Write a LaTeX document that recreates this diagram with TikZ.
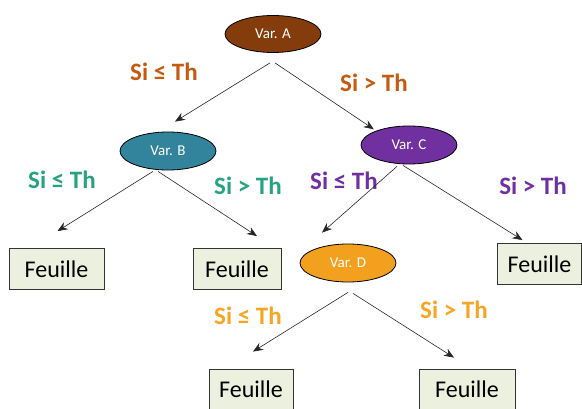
\documentclass[tikz,border=0pt]{standalone}
\usepackage{fontspec}
\setmainfont{Carlito}
\usepackage{tikz}
\usetikzlibrary{positioning,shapes.geometric,arrows.meta}

\definecolor{varAfill}{HTML}{843C0C}
\definecolor{varAtext}{HTML}{C55A11}
\definecolor{varBfill}{HTML}{31849B}
\definecolor{varBtext}{HTML}{27A383}
\definecolor{varCfill}{HTML}{7030A0}
\definecolor{varDfill}{HTML}{F2A01E}
\definecolor{varDtext}{HTML}{F6A623}
\definecolor{leaffill}{HTML}{EBF1DE}

\begin{document}
\begin{tikzpicture}[x=1pt, y=-1pt,
			varnode/.style={ellipse, draw=black, thick, minimum width=96pt, minimum height=38pt, text=white, font=\fontsize{15}{17}\selectfont},
			leafnode/.style={rectangle, draw=black!80, thick, fill=leaffill, minimum height=41pt, inner sep=4pt, font=\fontsize{24}{28}\selectfont},
			condlabel/.style={font=\bfseries\fontsize{25}{29}\selectfont},
			edge/.style={-{Stealth[length=10pt,width=8pt]}, draw=black!85, semithick},
		]
		
			\useasboundingbox (0,0) rectangle (582,409);
		
			%Nodes
			\node[varnode, fill=varAfill, minimum height=37pt]	(A)	at (273,34)		{Var. A};
			\node[varnode, fill=varBfill]	(B)	at (168,151)	{Var. B};
			\node[varnode, fill=varCfill]	(C)	at (409,145)	{Var. C};
			\node[varnode, fill=varDfill]	(D)	at (348,263)	{Var. D};
		
			\node[leafnode, minimum width=95pt]	(f1)	at (56.5,269)	{Feuille};
			\node[leafnode, minimum width=88pt]	(f2)	at (237,269)	{Feuille};
			\node[leafnode, minimum width=84pt]	(f3)	at (539.5,264)	{Feuille};
			\node[leafnode, minimum width=84pt]	(f4)	at (251,389.5)	{Feuille};
			\node[leafnode, minimum width=96pt]	(f5)	at (467,389.5)	{Feuille};
		
			%Labels
			\node[condlabel, text=varAtext]	(lA1)	at (164,72)		{Si ≤ Th};
			\node[condlabel, text=varAtext]	(lA2)	at (374,83)		{Si > Th};
			\node[condlabel, text=varBtext]	(lB1)	at (62,180)		{Si ≤ Th};
			\node[condlabel, text=varBtext]	(lB2)	at (248,186)	{Si > Th};
			\node[condlabel, text=varCfill]	(lC1)	at (344,181)	{Si ≤ Th};
			\node[condlabel, text=varCfill]	(lC2)	at (533,186)	{Si > Th};
			\node[condlabel, text=varDtext]	(lD1)	at (248,316)	{Si ≤ Th};
			\node[condlabel, text=varDtext]	(lD2)	at (454,310)	{Si > Th};
		
			%Lines
			\draw[edge]	([shift={(-3pt,-10pt)}]A.south) -- ([shift={(7pt,10pt)}]B.north);
			\draw[edge]	([shift={(2pt,-10pt)}]A.south) -- ([shift={(-1pt,2pt)}]C.north west);
			\draw[edge]	([shift={(-15pt,-1pt)}]B.south) -- ([shift={(1pt,17pt)}]f1.north);
			\draw[edge]	([shift={(-10pt,-1pt)}]B.south) -- ([shift={(20pt,12pt)}]f2.north);
			\draw[edge]	([shift={(-12pt,-2pt)}]C.south) -- ([shift={(-26pt,11pt)}]D.north);
			\draw[edge]	([shift={(-6pt,-1pt)}]C.south) -- ([shift={(-17pt,3pt)}]f3.north);
			\draw[edge]	([shift={(0pt,-10pt)}]D.south) -- ([shift={(2pt,17pt)}]f4.north);
			\draw[edge]	([shift={(5pt,-11pt)}]D.south) -- ([shift={(-13pt,11pt)}]f5.north);
		
		\end{tikzpicture}
\end{document}
